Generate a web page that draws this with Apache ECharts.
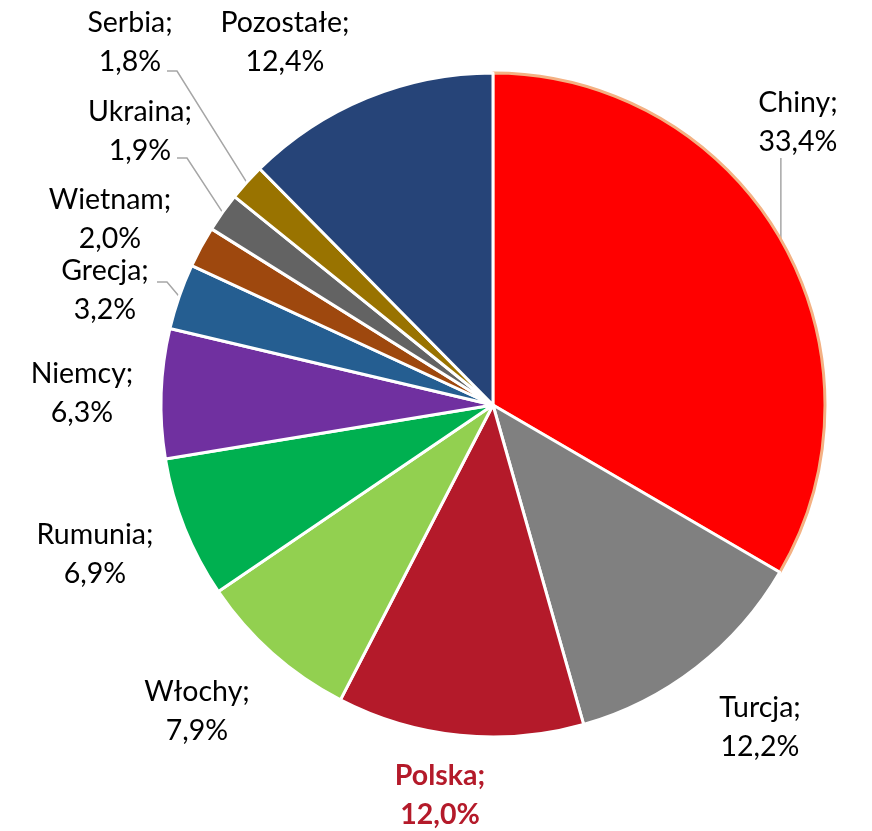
<!DOCTYPE html>
<html>
<head>
<meta charset="utf-8">
<script src="https://cdn.jsdelivr.net/npm/echarts@6/dist/echarts.min.js"></script>
<style>
html,body{margin:0;padding:0;background:#fff;}
#c{width:872px;height:831px;}
</style>
</head>
<body>
<div id="c"></div>
<script>
// Data
const categories = ['Chiny', 'Turcja', 'Polska', 'Włochy', 'Rumunia', 'Niemcy', 'Grecja', 'Wietnam', 'Ukraina', 'Serbia', 'Pozostałe'];
const shares = [33.4, 12.2, 12.0, 7.9, 6.9, 6.3, 3.2, 2.0, 1.9, 1.8, 12.4];
const colors = ['#FF0000', '#808080', '#B41A2A', '#92D050', '#00B050', '#7030A0', '#255E91', '#9E480E', '#636363', '#997300', '#264478'];

// Label placement (styling only): text block centres, and guide line routing
const labelPos = {
  'Chiny': [798, 122], 'Turcja': [760, 727], 'Polska': [440, 795], 'Włochy': [197, 711],
  'Rumunia': [95, 554], 'Niemcy': [82, 393], 'Grecja': [105, 290], 'Wietnam': [110, 219],
  'Ukraina': [140, 131], 'Serbia': [130, 42], 'Pozostałe': [285, 42]
};
const guideBend = {
  'Chiny': [[null, 158]],
  'Serbia': [[177, 71], [167, 71]],
  'Ukraina': [[187, 158], [177, 158]],
  'Grecja': [[167, 282], [157, 282]]
};

const fmt = v => v.toFixed(1).replace('.', ',') + '%';

const data = categories.map((name, i) => {
  const d = {
    name: name,
    value: shares[i],
    itemStyle: { color: colors[i] },
    labelLine: { show: !!guideBend[name] }
  };
  if (name === 'Chiny') {
    d.itemStyle.borderColor = '#F4B183';
    d.itemStyle.borderWidth = 3;
  }
  if (name === 'Polska') {
    d.label = { color: '#B41A2A', fontWeight: 'bold' };
  }
  return d;
});

const chart = echarts.init(document.getElementById('c'));
chart.setOption({
  animation: false,
  series: [{
    type: 'pie',
    center: [493, 405],
    radius: 332,
    startAngle: 90,
    clockwise: true,
    avoidLabelOverlap: false,
    data: data,
    itemStyle: { borderColor: '#ffffff', borderWidth: 3 },
    label: {
      show: true,
      position: 'outside',
      formatter: p => p.name + ';\n' + fmt(p.value),
      fontFamily: 'Lato',
      fontSize: 28.5,
      lineHeight: 39,
      color: '#000000',
      align: 'center'
    },
    labelLine: {
      show: true,
      length: 10,
      length2: 10,
      lineStyle: { color: '#A6A6A6', width: 1.5 }
    },
    labelLayout: function (params) {
      const name = categories[params.dataIndex];
      const pos = labelPos[name];
      const res = { x: pos[0], y: pos[1], align: 'center', verticalAlign: 'middle' };
      const bend = guideBend[name];
      if (bend && params.labelLinePoints) {
        const start = params.labelLinePoints[0];
        const pts = [start.slice()];
        bend.forEach(b => pts.push([b[0] == null ? start[0] : b[0], b[1]]));
        res.labelLinePoints = pts;
      }
      return res;
    }
  }]
});
</script>
</body>
</html>
